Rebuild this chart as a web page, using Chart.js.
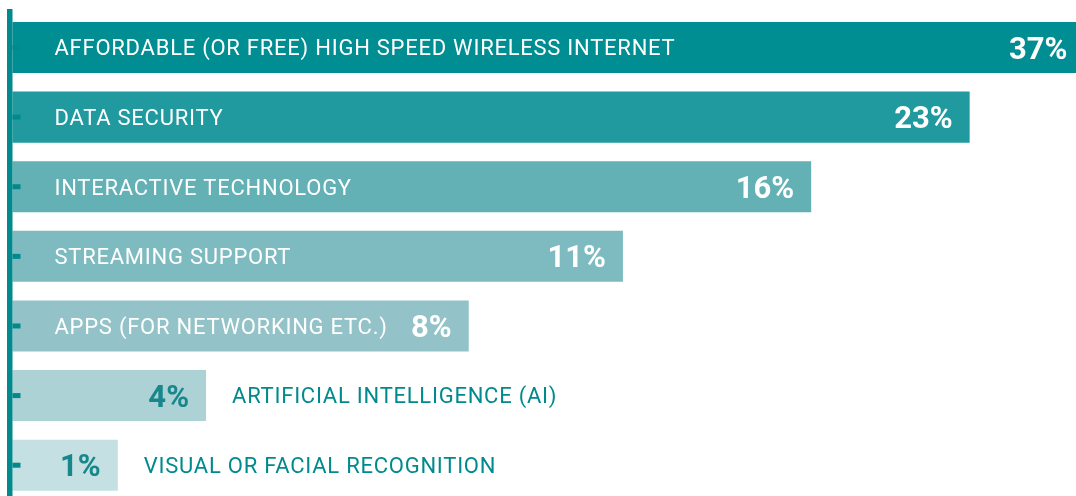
<!DOCTYPE html>
<html>
<head>
<meta charset="utf-8">
<script src="https://cdn.jsdelivr.net/npm/chart.js@4/dist/chart.umd.min.js"></script>
<style>
  html, body { margin: 0; padding: 0; background: #fff; overflow: hidden; }
  #wrap { width: 1076px; height: 500px; position: relative; }
</style>
</head>
<body>
<div id="wrap"><canvas id="chart"></canvas></div>
<script>
"use strict";
const categories = [
    'AFFORDABLE (OR FREE) HIGH SPEED WIRELESS INTERNET',
    'DATA SECURITY',
    'INTERACTIVE TECHNOLOGY',
    'STREAMING SUPPORT',
    'APPS (FOR NETWORKING ETC.)',
    'ARTIFICIAL INTELLIGENCE (AI)',
    'VISUAL OR FACIAL RECOGNITION'
];
// percentages printed on the bars
const percentValues = [37, 23, 16, 11, 8, 4, 1];
// bar lengths as drawn in the original (not proportional to the percentages), 0-100 of the width
const barLengths = [100.8, 90.0, 75.1, 57.4, 42.9, 18.2, 9.9];

const barColors = ['#008e93', '#219a9f', '#63b0b5', '#7dbbc0', '#93c3c8', '#add2d5', '#c4e0e3'];
const teal = '#008a8e';
const labelSize = 22;
const valueSize = 31;
const labelFont = labelSize + 'px Roboto';
const valueFont = 'bold ' + valueSize + 'px Roboto';

const annotate = {
    id: 'annotate',
    afterDatasetsDraw(chart) {
        const ctx = chart.ctx;
        const area = chart.chartArea;
        const meta = chart.getDatasetMeta(0);
        ctx.save();
        // axis line
        ctx.fillStyle = teal;
        ctx.fillRect(area.left - 5.5, 9, 5.5, chart.height);
        meta.data.forEach((bar, i) => {
            const y = bar.y;
            // tick stub
            ctx.fillStyle = teal;
            ctx.fillRect(area.left, y - 2.5, 8, 5);

            const valueText = percentValues[i] + '%';
            ctx.letterSpacing = '0px';
            ctx.font = valueFont;
            const valueWidth = ctx.measureText(valueText).width;
            ctx.font = labelFont;
            ctx.letterSpacing = '0.75px';
            const labelWidth = ctx.measureText(categories[i]).width;
            const barWidth = bar.x - area.left;
            const inside = 42 + labelWidth + 12 + valueWidth + 17 < barWidth;

            ctx.textBaseline = 'alphabetic';
            ctx.letterSpacing = '0px';
            ctx.font = valueFont;
            ctx.textAlign = 'right';
            ctx.fillStyle = inside ? '#ffffff' : '#17878b';
            ctx.fillText(valueText, Math.min(bar.x, chart.width + 9) - 17, y + valueSize * 0.355);

            ctx.font = labelFont;
            ctx.letterSpacing = '0.75px';
            ctx.textAlign = 'left';
            if (inside) {
                ctx.fillStyle = '#ffffff';
                ctx.fillText(categories[i], area.left + 42, y + labelSize * 0.355);
            } else {
                ctx.fillStyle = teal;
                ctx.fillText(categories[i], bar.x + 26, y + labelSize * 0.355);
            }
        });
        ctx.restore();
    }
};

const chart = new Chart(document.getElementById('chart').getContext('2d'), {
    type: 'bar',
    data: {
        labels: categories,
        datasets: [{
            data: barLengths,
            backgroundColor: barColors,
            borderWidth: 0,
            barPercentage: 0.733,
            categoryPercentage: 1,
            clip: false
        }]
    },
    options: {
        indexAxis: 'y',
        responsive: true,
        maintainAspectRatio: false,
        animation: false,
        layout: { padding: { left: 12.5, right: 0, top: 12.7, bottom: 0 } },
        scales: {
            x: { display: false, min: 0, max: 100 },
            y: { display: false }
        },
        plugins: {
            legend: { display: false },
            tooltip: { enabled: false }
        }
    },
    plugins: [annotate]
});
</script>
</body>
</html>
